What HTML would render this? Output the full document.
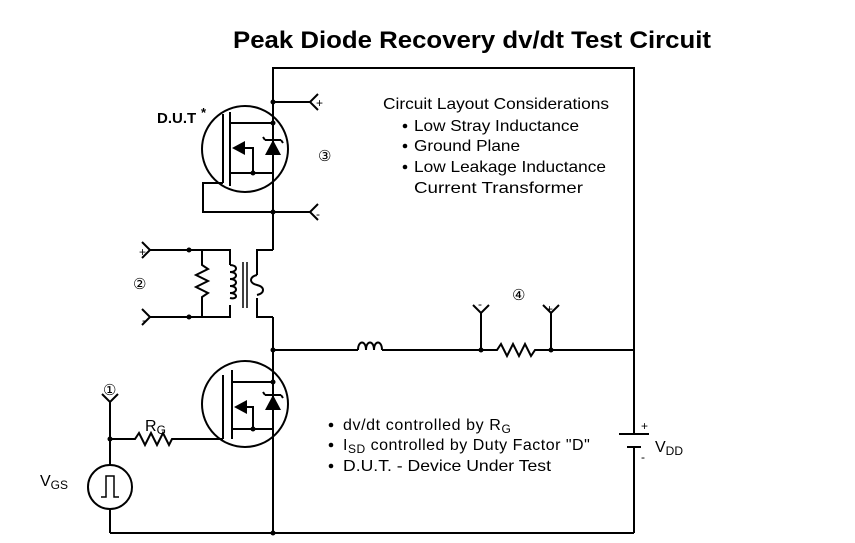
<!DOCTYPE html>
<html><head><style>
body{margin:0;background:#fff}
svg{display:block}
text{font-family:"Liberation Sans",sans-serif;fill:#000}
</style></head><body>
<svg width="855" height="543" viewBox="0 0 855 543" xmlns="http://www.w3.org/2000/svg">
<g stroke="#000" stroke-width="2" fill="none">
<polyline points="273,250 273,68 634,68 634,434"/>
<line x1="634" y1="447" x2="634" y2="533"/>
<line x1="110" y1="533" x2="634" y2="533"/>
<line x1="273" y1="317" x2="273" y2="533"/>
<line x1="619" y1="434" x2="649" y2="434"/>
<line x1="627" y1="447" x2="641" y2="447"/>
<line x1="273" y1="102" x2="310" y2="102"/>
<polyline points="318,94 310,102 318,110"/>
<line x1="273" y1="212" x2="310" y2="212"/>
<polyline points="318,204 310,212 318,220"/>
<circle cx="245" cy="149" r="43"/>
<line x1="223" y1="114" x2="223" y2="183"/>
<line x1="230" y1="112" x2="230" y2="186"/>
<line x1="230" y1="123" x2="273" y2="123"/>
<line x1="230" y1="173" x2="273" y2="173"/>
<polyline points="245,148 253,148 253,173"/>
<polyline points="223,183 203,183 203,212 273,212"/>
<polyline points="273,250 257,250 257,275"/>
<polyline points="257,298 257,317 273,317"/>
<path d="M257,275 c-8,2 -8,8 0,10 c8,2 8,8 0,10" />
<line x1="243" y1="262" x2="243" y2="308" stroke-width="1.5"/>
<line x1="247" y1="262" x2="247" y2="308" stroke-width="1.5"/>
<polyline points="150,250 230,250 230,265"/>
<polyline points="150,317 230,317 230,305"/>
<path d="M230,265 c8,0 8,7 0,7 c8,0 8,7 0,7 c8,0 8,7 0,7 c8,0 8,7 0,7 c8,0 8,7 0,5"/>
<polyline points="202,250 202,265 208,269 196,275 208,281 196,287 208,293 202,297 202,317"/>
<polyline points="142,242 150,250 142,258"/>
<polyline points="142,309 150,317 142,325"/>
<line x1="273" y1="350" x2="358" y2="350"/>
<path d="M358,350 c0,-10 8,-10 8,0 c0,-10 8,-10 8,0 c0,-10 8,-10 8,0"/>
<polyline points="382,350 497,350 501,344 507,356 513,344 519,356 525,344 531,356 535,350 634,350"/>
<line x1="481" y1="350" x2="481" y2="313"/>
<polyline points="473,305 481,313 489,305"/>
<line x1="551" y1="350" x2="551" y2="313"/>
<polyline points="543,305 551,313 559,305"/>
<circle cx="245" cy="404" r="43"/>
<line x1="223" y1="375" x2="223" y2="439"/>
<line x1="232" y1="370" x2="232" y2="439"/>
<line x1="232" y1="382" x2="273" y2="382"/>
<line x1="232" y1="429" x2="273" y2="429"/>
<polyline points="245,407 253,407 253,429"/>
<polyline points="110,439 135,439 139,433 145,445 151,433 157,445 163,433 169,445 172,439 223,439"/>
<line x1="110" y1="402" x2="110" y2="465"/>
<polyline points="102,394 110,402 118,394"/>
<circle cx="110" cy="487" r="22"/>
<line x1="110" y1="509" x2="110" y2="533"/>
<polyline points="101,497 106,497 106,476 114,476 114,497 119,497" stroke-width="1.5"/>
<line x1="265" y1="140" x2="281" y2="140"/>
<polyline points="265,140 263,137" />
<polyline points="281,140 283,143" />
<line x1="265" y1="395" x2="281" y2="395"/>
<polyline points="265,395 263,392"/>
<polyline points="281,395 283,398"/>
</g>
<g fill="#000">
<polygon points="273,140 265,155 281,155"/>
<polygon points="273,395 265,410 281,410"/>
<polygon points="232,148 245,141 245,155"/>
<polygon points="234,407 247,400 247,414"/>
<circle cx="273" cy="102" r="2.5"/><circle cx="273" cy="123" r="2.5"/>
<circle cx="253" cy="173" r="2.5"/><circle cx="273" cy="212" r="2.5"/>
<circle cx="189" cy="250" r="2.5"/><circle cx="189" cy="317" r="2.5"/>
<circle cx="273" cy="350" r="2.5"/><circle cx="481" cy="350" r="2.5"/>
<circle cx="551" cy="350" r="2.5"/><circle cx="273" cy="382" r="2.5"/>
<circle cx="253" cy="429" r="2.5"/><circle cx="110" cy="439" r="2.5"/>
<circle cx="273" cy="533" r="2.5"/>
<circle cx="405" cy="126" r="2.3"/><circle cx="405" cy="146" r="2.3"/><circle cx="405" cy="167" r="2.3"/>
<circle cx="331" cy="425" r="2.3"/><circle cx="331" cy="445" r="2.3"/><circle cx="331" cy="466" r="2.3"/>
</g>
<text x="233" y="48" font-size="24" font-weight="bold" textLength="478" lengthAdjust="spacingAndGlyphs">Peak Diode Recovery dv/dt Test Circuit</text>
<text x="157" y="123" font-size="15" font-weight="bold">D.U.T</text><text x="201" y="117" font-size="13" font-weight="bold">*</text>
<text x="316" y="107" font-size="12">+</text>
<text x="316" y="218" font-size="12">-</text>
<text x="318" y="161" font-size="15">③</text>
<text x="133" y="289" font-size="15">②</text>
<text x="139" y="256" font-size="12">+</text>
<text x="142" y="324" font-size="12">-</text>
<text x="512" y="300" font-size="15">④</text>
<text x="478" y="308" font-size="12">-</text>
<text x="546" y="313" font-size="12">+</text>
<text x="103" y="395" font-size="15">①</text>
<text x="145" y="431" font-size="16">R<tspan font-size="12" dy="3">G</tspan></text>
<text x="40" y="486" font-size="16">V<tspan font-size="12" dy="3">GS</tspan></text>
<text x="641" y="430" font-size="12">+</text>
<text x="641" y="461" font-size="12">-</text>
<text x="655" y="452" font-size="16">V<tspan font-size="12" dy="3">DD</tspan></text>
<g font-size="16">
<text x="383" y="109" textLength="226" lengthAdjust="spacingAndGlyphs">Circuit Layout Considerations</text>
<text x="414" y="131" textLength="165" lengthAdjust="spacingAndGlyphs">Low Stray Inductance</text>
<text x="414" y="151" textLength="106" lengthAdjust="spacingAndGlyphs">Ground Plane</text>
<text x="414" y="172" textLength="192" lengthAdjust="spacingAndGlyphs">Low Leakage Inductance</text>
<text x="414" y="193" textLength="169" lengthAdjust="spacingAndGlyphs">Current Transformer</text>
<text x="343" y="430" letter-spacing="0.6">dv/dt controlled by R<tspan font-size="12" dy="3">G</tspan></text>
<text x="343" y="450" letter-spacing="0.5">I<tspan font-size="12" dy="3">SD</tspan><tspan dy="-3"> controlled by Duty Factor "D"</tspan></text>
<text x="343" y="471" textLength="208" lengthAdjust="spacingAndGlyphs">D.U.T. - Device Under Test</text>
</g>
</svg>
</body></html>
